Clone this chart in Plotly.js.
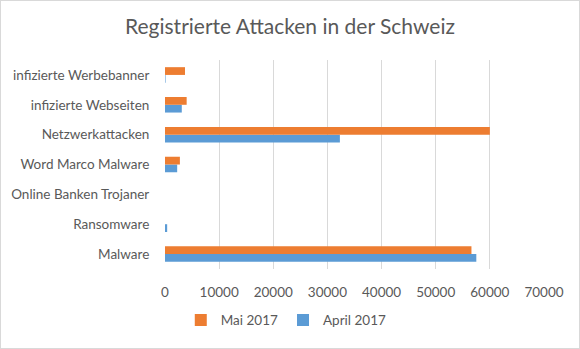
<!DOCTYPE html>
<html>
<head>
<meta charset="utf-8">
<script src="https://cdn.plot.ly/plotly-3.0.1.min.js"></script>
<style>
html,body{margin:0;padding:0;background:#fff;}
#chart{width:578px;height:347px;border:1px solid #d9d9d9;}
</style>
</head>
<body>
<div id="chart"></div>
<script>
const categories = ["Malware","Ransomware","Online Banken Trojaner","Word Marco Malware","Netzwerkattacken","infizierte Webseiten","infizierte Werbebanner"];
const april2017 = [57500, 400, 0, 2250, 32300, 3100, 100];
const mai2017 = [56600, 0, 0, 2750, 60000, 4000, 3700];
const xTicks = [0,10000,20000,30000,40000,50000,60000,70000];

const font = "Lato, 'Open Sans', sans-serif";
const traces = [
  {type:'bar', orientation:'h', name:'April 2017', y:categories, x:april2017, marker:{color:'#5b9bd5'}},
  {type:'bar', orientation:'h', name:'Mai 2017', y:categories, x:mai2017, marker:{color:'#ed7d31'}}
];
const layout = {
  width:578, height:347,
  margin:{l:164, r:35, t:59, b:72},
  paper_bgcolor:'#fff', plot_bgcolor:'#fff',
  font:{family:font, size:13.5, color:'#595959'},
  title:{text:'Registrierte Attacken in der Schweiz', font:{family:font, size:21, color:'#595959'}, x:0.5, xanchor:'center', y:0.925, yanchor:'middle'},
  barmode:'group', bargap:0.48, bargroupgap:0,
  xaxis:{range:[0,70000], tickvals:xTicks, ticktext:xTicks.map(String), tickangle:0, automargin:false, showgrid:true, gridcolor:'#d9d9d9', gridwidth:1, zeroline:false, showline:false, ticks:'outside', ticklen:11, tickcolor:'rgba(0,0,0,0)', tickfont:{size:13.5, color:'#595959'}, fixedrange:true},
  yaxis:{type:'category', categoryorder:'array', categoryarray:categories, automargin:false, showgrid:false, zeroline:false, showline:false, ticks:'outside', ticklen:12, tickcolor:'rgba(0,0,0,0)', tickfont:{size:13.5, color:'#595959'}, fixedrange:true},
  showlegend:true,
  legend:{orientation:'h', traceorder:'reversed', x:0.32, xanchor:'center', y:-0.245, yanchor:'middle', font:{size:13.5, color:'#595959'}, itemwidth:30}
};
Plotly.newPlot('chart', traces, layout, {displayModeBar:false, staticPlot:true});
</script>
</body>
</html>
